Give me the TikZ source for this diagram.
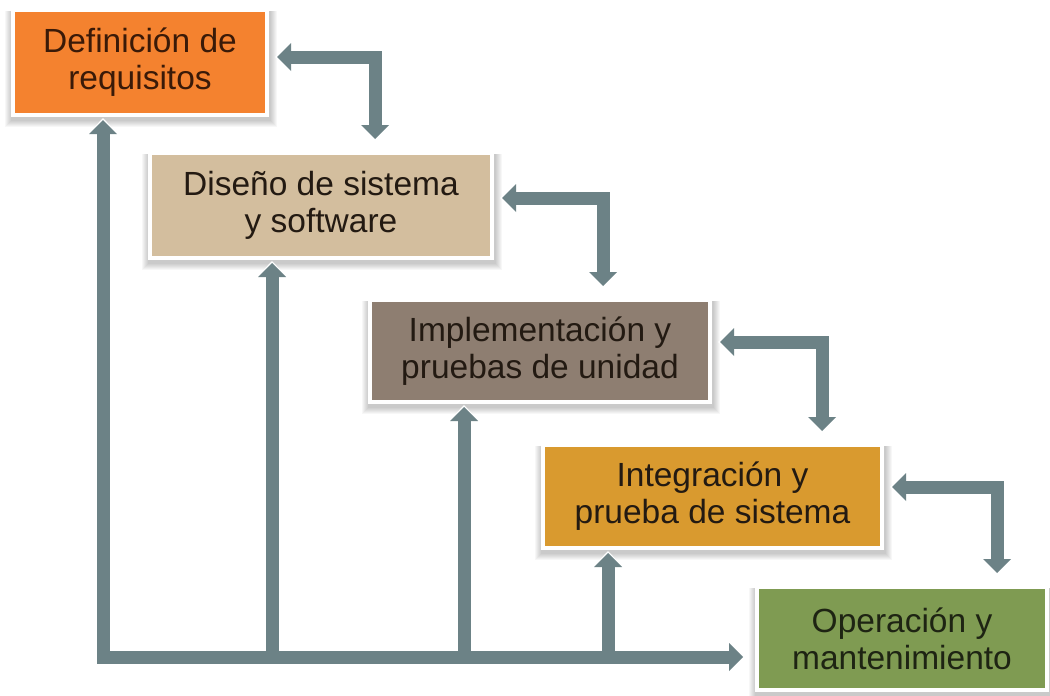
\documentclass[tikz,border=0pt]{standalone}
\usepackage{fontspec}
\setmainfont{Liberation Sans}
\usetikzlibrary{arrows.meta,backgrounds}
\definecolor{orgc}{HTML}{F4822F}
\definecolor{tanc}{HTML}{D3BE9E}
\definecolor{taupec}{HTML}{8E7E71}
\definecolor{ochrec}{HTML}{D99A2F}
\definecolor{olivec}{HTML}{7F9B52}
\definecolor{barc}{HTML}{6C8286}
\definecolor{txtbrown}{HTML}{3A1A08}
\definecolor{txtdark}{HTML}{231A12}
\definecolor{txtgreen}{HTML}{1E2413}
\begin{document}
\begin{tikzpicture}[x=1pt,y=-1pt,
  box/.style={draw=white, line width=4pt, inner sep=0pt, align=center,
    font=\fontsize{33.5}{37}\selectfont},
  halo/.style={draw=white, line width=17pt, line join=miter,
    >={Triangle[width=36pt,length=19pt,line width=0pt]}},
  bar/.style={draw=barc, line width=13pt, line join=miter,
    >={Triangle[width=28pt,length=14pt,line width=0pt]}},
  shade/.style={fill=black, opacity=0.03},
]
\useasboundingbox (0,0) rectangle (1050,696);

\node[box, fill=orgc, text=txtbrown, minimum width=254pt, minimum height=105pt] (b1) at (140,62.5) {Definición de\\requisitos};
\node[box, fill=tanc, text=txtdark, minimum width=342pt, minimum height=105pt] (b2) at (321,205.5) {Diseño de sistema\\y software};
\node[box, fill=taupec, text=txtdark, minimum width=340pt, minimum height=102pt] (b3) at (540,351) {Implementación y\\pruebas de unidad};
\node[box, fill=ochrec, text=txtdark, minimum width=339pt, minimum height=103pt] (b4) at (712.5,496.5) {Integración y\\prueba de sistema};
\node[box, fill=olivec, text=txtgreen, minimum width=290pt, minimum height=103pt] (b5) at (902,638.5) {Operación y\\mantenimiento};

\begin{scope}[on background layer]
  \fill[white] (0,0) rectangle (1050,696);
  \foreach \n in {b1,b2,b3,b4,b5}
    \foreach \i in {1,...,7}
      \fill[shade] ([shift={(-\i+1,3)}]\n.north west) rectangle ([shift={(\i+1,3+\i)}]\n.south east);
\end{scope}

% elbow corners
\coordinate (e1) at (375,57);
\coordinate (e2) at (603,198);
\coordinate (e3) at (822,342);
\coordinate (e4) at (997,487);
% feedback junctions
\coordinate (c1) at (103,657);
\coordinate (c2) at (272,657);
\coordinate (c3) at (464,657);
\coordinate (c4) at (608,657);

% halos
\foreach \a/\b/\e in {b1/b2/e1, b2/b3/e2, b3/b4/e3, b4/b5/e4}
  \draw[halo, <->, shorten <=6pt, shorten >=9pt] (\a.east |- \e) -- (\e) -- (\b.north -| \e);
\draw[halo, <->, shorten <=1pt, shorten >=9pt] (b1.south -| c1) -- (c1) -- (b5.west |- c1);
\foreach \b/\c in {b2/c2, b3/c3, b4/c4}
  \draw[halo, ->, shorten >=1pt] (\c) -- (\b.south -| \c);

% bars
\foreach \a/\b/\e in {b1/b2/e1, b2/b3/e2, b3/b4/e3, b4/b5/e4}
  \draw[bar, <->, shorten <=8pt, shorten >=12pt] (\a.east |- \e) -- (\e) -- (\b.north -| \e);
\draw[bar, <->, shorten <=3pt, shorten >=12pt] (b1.south -| c1) -- (c1) -- (b5.west |- c1);
\foreach \b/\c in {b2/c2, b3/c3, b4/c4}
  \draw[bar, ->, shorten >=3pt] (\c) -- (\b.south -| \c);
\end{tikzpicture}
\end{document}
